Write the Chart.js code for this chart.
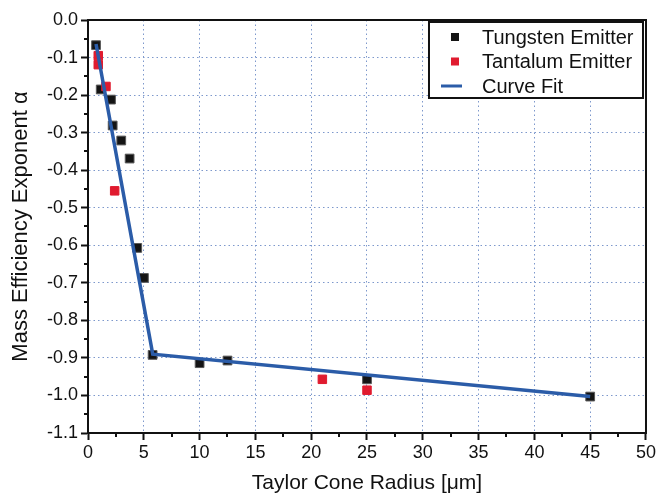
<!DOCTYPE html>
<html>
<head>
<meta charset="utf-8">
<script src="https://cdn.jsdelivr.net/npm/chart.js@4.4.1/dist/chart.umd.min.js"></script>
<style>
  html, body { margin: 0; padding: 0; background: #fff; }
  canvas { display: block; }
</style>
</head>
<body>
<canvas id="grafico" width="658" height="496"></canvas>
<script>
const tungstenX = [0.72, 1.14, 2.06, 2.21, 2.98, 3.73, 4.41, 5.01, 5.79, 10, 12.5, 25, 45];
const tungstenY = [-0.067, -0.185, -0.212, -0.281, -0.321, -0.369, -0.607, -0.687, -0.892, -0.914, -0.907, -0.957, -1.003];
const tantalumX = [0.92, 0.92, 1.61, 2.39, 21, 25];
const tantalumY = [-0.095, -0.119, -0.177, -0.455, -0.957, -0.986];
const fitX = [0.72, 5.8, 45];
const fitY = [-0.064, -0.89, -1.003];

function pares(xs, ys) {
  return xs.map((x, i) => ({x: x, y: ys[i]}));
}

// frame, minor ticks and boxed legend
const moldura = {
  id: 'moldura',
  afterDraw(chart) {
    const ctx = chart.ctx;
    const a = chart.chartArea;
    const sx = chart.scales.x, sy = chart.scales.y;
    ctx.save();
    ctx.strokeStyle = '#111';
    ctx.lineWidth = 2;
    // minor ticks
    ctx.beginPath();
    for (let v = 2.5; v < 50; v += 5) {
      const px = Math.round(sx.getPixelForValue(v));
      ctx.moveTo(px, a.bottom);
      ctx.lineTo(px, a.bottom + 4);
    }
    for (let v = -0.05; v > -1.1; v -= 0.1) {
      const py = Math.round(sy.getPixelForValue(v));
      ctx.moveTo(a.left, py);
      ctx.lineTo(a.left - 4, py);
    }
    ctx.stroke();
    ctx.strokeRect(a.left, a.top, a.right - a.left, a.bottom - a.top);

    // legend
    const bx = a.right - 217, by = a.top + 2, bw = 214, bh = 76;
    ctx.fillStyle = '#fff';
    ctx.fillRect(bx, by, bw, bh);
    ctx.strokeRect(bx, by, bw, bh);
    ctx.font = '20px "Liberation Sans", Arial, sans-serif';
    ctx.textBaseline = 'middle';
    chart.data.datasets.forEach((ds, i) => {
      const cy = by + 15 + i * 24.5;
      if (ds.showLine) {
        ctx.strokeStyle = ds.borderColor;
        ctx.lineWidth = 3;
        ctx.beginPath();
        ctx.moveTo(bx + 12, cy);
        ctx.lineTo(bx + 33, cy);
        ctx.stroke();
      } else {
        ctx.fillStyle = ds.backgroundColor;
        ctx.fillRect(bx + 22, cy - 4, 8, 8);
      }
      ctx.fillStyle = '#111';
      ctx.fillText(ds.label, bx + 53, cy + 1);
    });
    ctx.restore();
  }
};

const ctx = document.getElementById('grafico').getContext('2d');
new Chart(ctx, {
  type: 'scatter',
  data: {
    datasets: [{
      label: 'Tungsten Emitter',
      data: pares(tungstenX, tungstenY),
      pointStyle: 'rect',
      pointRadius: 6.2,
      backgroundColor: '#141414',
      borderColor: '#5a5a5a',
      borderWidth: 1,
      order: 2
    }, {
      label: 'Tantalum Emitter',
      data: pares(tantalumX, tantalumY),
      pointStyle: 'rect',
      pointRadius: 6,
      backgroundColor: '#e01b2f',
      borderColor: '#e01b2f',
      borderWidth: 1,
      order: 1
    }, {
      label: 'Curve Fit',
      data: pares(fitX, fitY),
      showLine: true,
      pointRadius: 0,
      borderColor: '#2b5ca8',
      borderWidth: 3.5,
      order: 0
    }]
  },
  options: {
    responsive: false,
    animation: false,
    layout: {padding: {top: 20, right: 11, left: 0, bottom: 0}},
    plugins: {
      legend: {display: false},
      tooltip: {enabled: false}
    },
    scales: {
      x: {
        type: 'linear',
        min: 0,
        max: 50,
        afterFit(scale) { scale.height = 63; },
        ticks: {
          stepSize: 5,
          padding: 2,
          color: '#111',
          font: {family: '"Liberation Sans", Arial', size: 18}
        },
        grid: {
          color: '#7d98cc',
          lineWidth: 1,
          tickColor: '#111',
          tickWidth: 2,
          tickLength: 7
        },
        border: {dash: [1.5, 3], color: '#111', width: 2},
        title: {
          display: true,
          text: 'Taylor Cone Radius [\u03bcm]',
          color: '#111',
          font: {family: '"Liberation Sans", Arial', size: 21, lineHeight: 1},
          padding: {top: 0, bottom: 2}
        }
      },
      y: {
        min: -1.1,
        max: 0,
        afterFit(scale) { scale.width = 88; },
        ticks: {
          stepSize: 0.1,
          padding: 3,
          color: '#111',
          font: {family: '"Liberation Sans", Arial', size: 18},
          callback: function(value) {
            return (Math.abs(value) < 1e-9 ? 0 : value).toFixed(1);
          }
        },
        grid: {
          color: '#7d98cc',
          lineWidth: 1,
          tickColor: '#111',
          tickWidth: 2,
          tickLength: 7
        },
        border: {dash: [1.5, 3], color: '#111', width: 2},
        title: {
          display: true,
          text: 'Mass Efficiency Exponent \u03b1',
          color: '#111',
          font: {family: '"Liberation Sans", Arial', size: 22, lineHeight: 1},
          padding: {top: 10, bottom: 0}
        }
      }
    }
  },
  plugins: [moldura]
});
</script>
</body>
</html>
